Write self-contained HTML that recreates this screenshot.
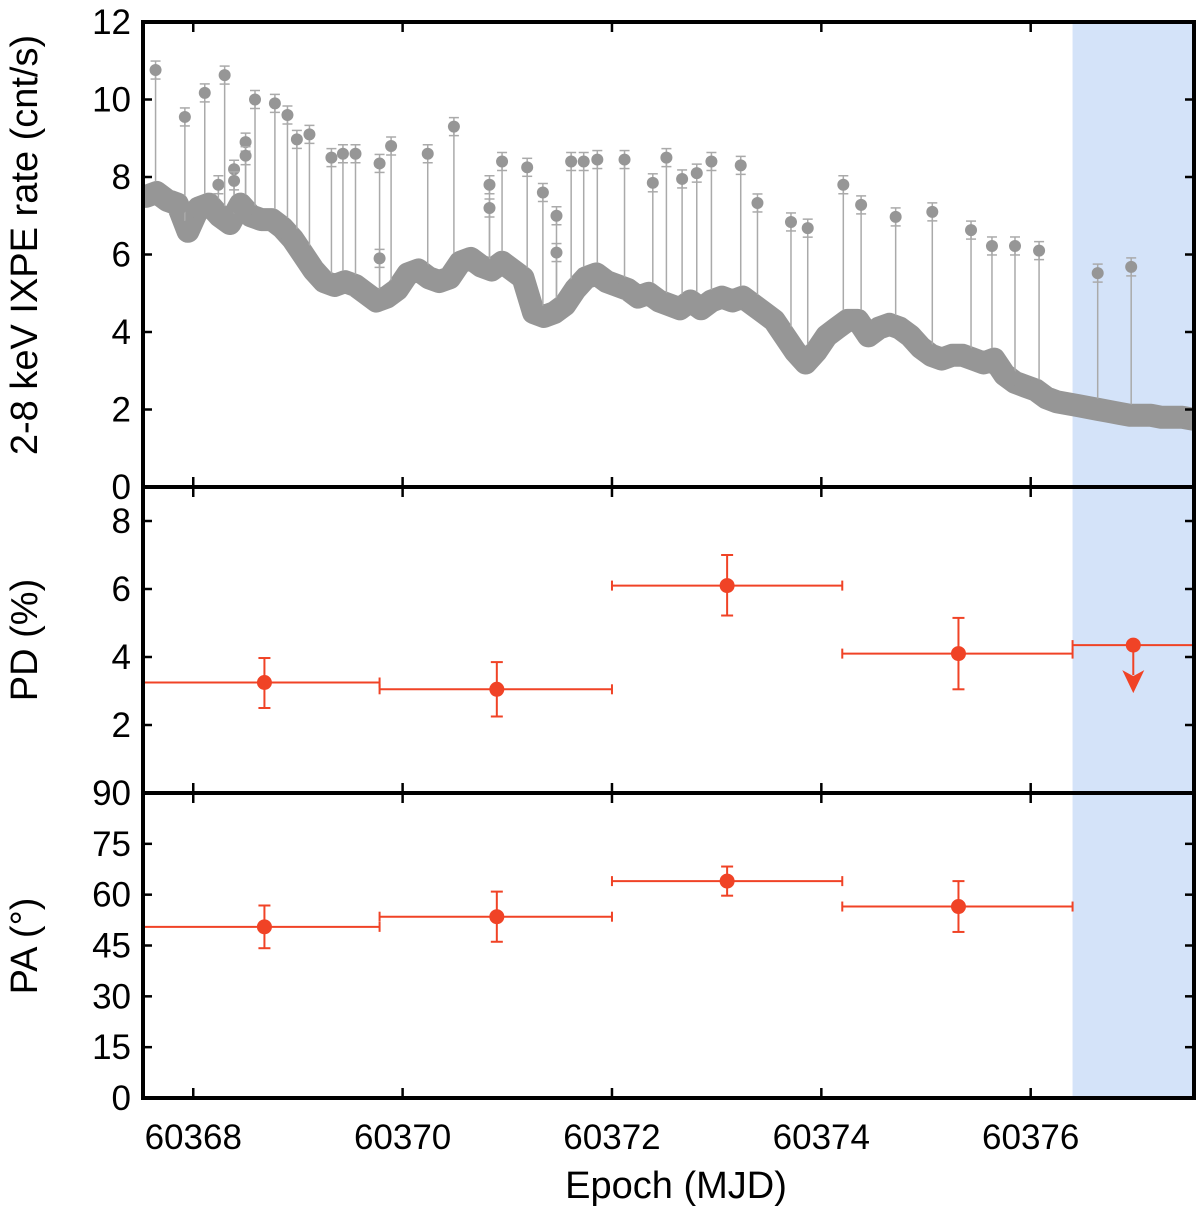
<!DOCTYPE html>
<html><head><meta charset="utf-8"><style>
html,body{margin:0;padding:0;background:#fff;}
svg{display:block;font-family:"Liberation Sans",Arial,sans-serif;}
</style></head><body>
<svg id="chart" width="1200" height="1212" viewBox="0 0 1200 1212" xmlns="http://www.w3.org/2000/svg"></svg>
<script>
// ---- data ----
const rateStart = 60367.55;
const rateStep = 0.1;
const rateValues = [
  7.5,7.6,7.4,7.3,6.6,7.2,7.3,7.0,6.8,7.3,
  7.0,6.9,6.9,6.7,6.4,6.0,5.6,5.3,5.2,5.3,
  5.2,5.0,4.8,4.9,5.1,5.5,5.6,5.4,5.3,5.4,
  5.8,5.9,5.7,5.6,5.8,5.6,5.4,4.5,4.4,4.5,
  4.7,5.1,5.4,5.5,5.3,5.2,5.1,4.9,5.0,4.8,
  4.7,4.6,4.8,4.6,4.8,4.9,4.8,4.9,4.7,4.5,
  4.3,3.9,3.5,3.2,3.5,3.9,4.1,4.3,4.3,3.9,
  4.1,4.2,4.1,3.9,3.6,3.4,3.3,3.4,3.4,3.3,
  3.2,3.3,2.9,2.7,2.6,2.5,2.3,2.2,2.15,2.1,
  2.05,2.0,1.95,1.9,1.85,1.85,1.85,1.8,1.8,1.8,
  1.75];
const flareTimes = [60367.64,60367.92,60368.11,60368.24,60368.30,60368.39,60368.39,60368.50,60368.50,60368.59,60368.78,60368.90,60368.99,60369.11,60369.32,60369.43,60369.55,60369.78,60369.78,60369.89,60370.24,60370.49,60370.83,60370.83,60370.95,60371.19,60371.34,60371.47,60371.47,60371.61,60371.73,60371.86,60372.12,60372.39,60372.52,60372.67,60372.81,60372.95,60373.23,60373.39,60373.71,60373.87,60374.21,60374.38,60374.71,60375.06,60375.43,60375.63,60375.85,60376.08,60376.64,60376.96];
const flareRates = [10.76,9.55,10.17,7.8,10.63,8.2,7.9,8.9,8.55,10.0,9.9,9.6,8.97,9.1,8.5,8.6,8.6,8.35,5.9,8.8,8.6,9.3,7.8,7.2,8.4,8.25,7.6,7.0,6.05,8.4,8.4,8.45,8.45,7.85,8.5,7.95,8.1,8.4,8.3,7.33,6.84,6.68,7.8,7.28,6.97,7.1,6.63,6.22,6.22,6.1,5.52,5.68];
const pdBinLo = [60367.52,60369.78,60372.0,60374.2,60376.4];
const pdBinHi = [60369.78,60372.0,60374.2,60376.4,60377.56];
const pdTime = [60368.68,60370.9,60373.1,60375.31,60376.98];
const pdValue = [3.25,3.05,6.1,4.1,4.35];
const pdErrUp = [0.72,0.8,0.9,1.05,0];
const pdErrDn = [0.75,0.8,0.88,1.05,0];
const pdUpperLimit = [false,false,false,false,true];
const paBinLo = [60367.52,60369.78,60372.0,60374.2];
const paBinHi = [60369.78,60372.0,60374.2,60376.4];
const paTime = [60368.68,60370.9,60373.1,60375.31];
const paValue = [50.5,53.5,64,56.5];
const paErr = [6.3,7.4,4.3,7.5];
const xTicks = [60368,60370,60372,60374,60376];
const rateTicks = [0,2,4,6,8,10,12];
const pdTicks = [2,4,6,8];
const paTicks = [0,15,30,45,60,75,90];
const shadeStart = 60376.4;

// ---- scales ----
const L=143, R=1194, T1=22, B1=487, B2=793, B3=1098;
const xMin=60367.52, xMax=60377.56;
const X = d => L + (d-xMin)/(xMax-xMin)*(R-L);
const Y1 = v => B1 - v/12*(B1-T1);
const Y2 = v => B2 - v/9*(B2-B1);
const Y3 = v => B3 - v/90*(B3-B2);

const svg = document.getElementById('chart');
const NS='http://www.w3.org/2000/svg';
function mk(tag, attrs, parent){const e=document.createElementNS(NS,tag);for(const k in attrs)e.setAttribute(k,attrs[k]);(parent||svg).appendChild(e);return e;}

const shade = mk('rect',{x:X(shadeStart),y:T1,width:R-X(shadeStart),height:B3-T1,fill:'#d4e3f9'});



const lc = mk('g',{});


const clip = mk('clipPath',{id:'plotclip'});
mk('rect',{x:L,y:T1,width:R-L,height:B1-T1},clip);
lc.setAttribute('clip-path','url(#plotclip)');
const rateTime = rateValues.map((v,i)=>rateStart+i*rateStep);
let dpath = rateValues.map((v,i)=>(i?'L':'M')+X(rateTime[i]).toFixed(1)+' '+Y1(v).toFixed(1)).join(' ');
const band = mk('path',{d:dpath,fill:'none',stroke:'#969696','stroke-width':23,'stroke-linejoin':'round','stroke-linecap':'round'},lc);


flareTimes.forEach((t,i)=>{
  const idx = Math.max(0,Math.min(rateValues.length-1,Math.round((t-rateStart)/rateStep)));
  const x=X(t), y=Y1(flareRates[i]);
  const g = mk('g',{},lc);
  
  
  mk('line',{x1:x,x2:x,y1:y,y2:Y1(rateValues[idx]),stroke:'#aaaaaa','stroke-width':1.5},g);
  mk('line',{x1:x,x2:x,y1:y-9,y2:y+9,stroke:'#aaaaaa','stroke-width':1.5},g);
  mk('line',{x1:x-5,x2:x+5,y1:y-9,y2:y-9,stroke:'#aaaaaa','stroke-width':1.5},g);
  mk('line',{x1:x-5,x2:x+5,y1:y+9,y2:y+9,stroke:'#aaaaaa','stroke-width':1.5},g);
  mk('circle',{cx:x,cy:y,r:6,fill:'#969696'},g);
});
rateValues.forEach((v,i)=>{
  const c = mk('circle',{cx:X(rateTime[i]),cy:Y1(v),r:11,fill:'#969696'},lc);
  
  
});

const RED='#f04326';
function errPoint(name,t,lo,hi,v,up,dn,Y,ul){
  const g=mk('g',{});
  
  
  const y=Y(v), x=X(t);
  mk('line',{x1:X(lo),x2:X(hi),y1:y,y2:y,stroke:RED,'stroke-width':2},g);
  mk('line',{x1:X(lo),x2:X(lo),y1:y-5,y2:y+5,stroke:RED,'stroke-width':2},g);
  if(hi<xMax-0.05) mk('line',{x1:X(hi),x2:X(hi),y1:y-5,y2:y+5,stroke:RED,'stroke-width':2},g);
  if(ul){
    mk('line',{x1:x,x2:x,y1:y,y2:y+30,stroke:RED,'stroke-width':2},g);
    mk('path',{d:`M${x-11} ${y+25} L${x} ${y+48} L${x+11} ${y+25} L${x} ${y+31} Z`,fill:RED},g);
  } else {
    const yt=Y(v+up), yb=Y(v-dn);
    mk('line',{x1:x,x2:x,y1:yt,y2:yb,stroke:RED,'stroke-width':2},g);
    mk('line',{x1:x-6,x2:x+6,y1:yt,y2:yt,stroke:RED,'stroke-width':2},g);
    mk('line',{x1:x-6,x2:x+6,y1:yb,y2:yb,stroke:RED,'stroke-width':2},g);
  }
  mk('circle',{cx:x,cy:y,r:7.5,fill:RED},g);
}
pdValue.forEach((v,i)=>errPoint('pd-point',pdTime[i],pdBinLo[i],pdBinHi[i],v,pdErrUp[i],pdErrDn[i],Y2,pdUpperLimit[i]));
paValue.forEach((v,i)=>errPoint('pa-point',paTime[i],paBinLo[i],paBinHi[i],v,paErr[i],paErr[i],Y3,false));

const ax=mk('g',{stroke:'#000','stroke-width':4,fill:'none'});


mk('rect',{x:L,y:T1,width:R-L,height:B3-T1},ax);
mk('line',{x1:L,x2:R,y1:B1,y2:B1},ax);
mk('line',{x1:L,x2:R,y1:B2,y2:B2},ax);
const tk=mk('g',{stroke:'#000','stroke-width':2.5});
[T1,B1,B2,B3].forEach(yb=>xTicks.forEach(t=>{
  const x=X(t);
  mk('line',{x1:x,x2:x,y1:(yb===T1?yb:yb-10),y2:(yb===B3?yb:yb+10)},tk);
}));
function yTicks(ticks,Y,name){
  ticks.forEach(v=>{
    const y=Y(v);
    mk('line',{x1:L,x2:L+9,y1:y,y2:y},tk);
    mk('line',{x1:R-9,x2:R,y1:y,y2:y},tk);
    const t=mk('text',{x:L-12,y:y+12,'text-anchor':'end','font-size':35,fill:'#000'});
    t.textContent=v;
    
    
  });
}
yTicks(rateTicks,Y1,'rate-tick-label');
yTicks(pdTicks,Y2,'pd-tick-label');
yTicks(paTicks,Y3,'pa-tick-label');
xTicks.forEach(t=>{
  const e=mk('text',{x:X(t),y:1149,'text-anchor':'middle','font-size':35,fill:'#000'});
  e.textContent=t;
  
  
});
function title(txt,x,y,rot,name){
  const e=mk('text',{x:x,y:y,'text-anchor':'middle','font-size':38,fill:'#000',transform:rot?`rotate(-90 ${x} ${y})`:''});
  e.textContent=txt;
  
  
}
title('2-8 keV IXPE rate (cnt/s)',37,245,true,'rate-axis-title');
title('PD (%)',37,640,true,'pd-axis-title');
title('PA (°)',37,946,true,'pa-axis-title');
title('Epoch (MJD)',676,1198,false,'x-axis-title');
</script>
</body></html>
